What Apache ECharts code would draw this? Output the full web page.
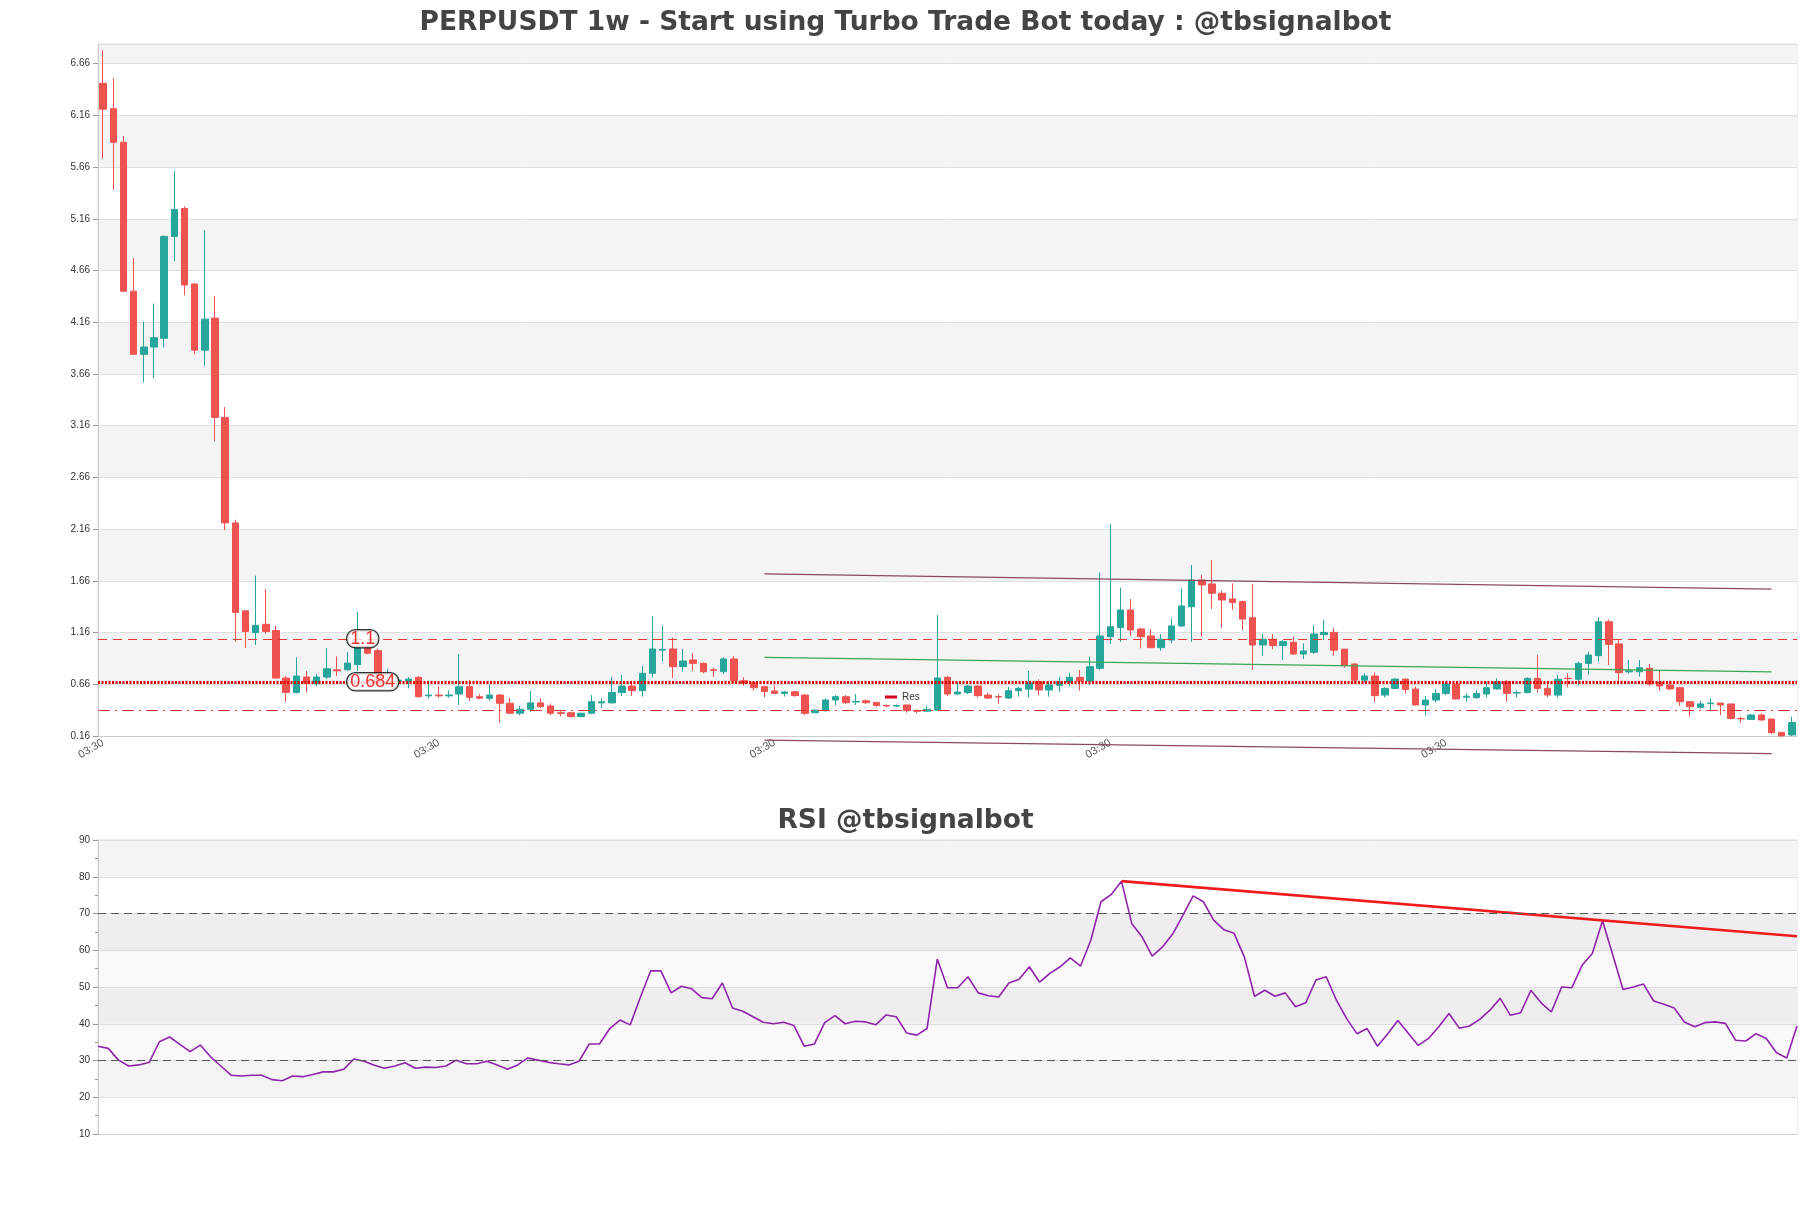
<!DOCTYPE html>
<html><head><meta charset="utf-8">
<script src="https://cdn.jsdelivr.net/npm/echarts@6/dist/echarts.min.js"></script>
<style>html,body{margin:0;padding:0;background:#fff}#c{width:1811px;height:1208px}</style>
</head><body><div id="c"></div>
<script>
const opens=[6.47,6.225,5.90,4.46,3.85,3.92,4.005,4.99,5.26,4.53,3.89,4.20,3.24,2.22,1.37,1.16,1.24,1.18,0.72,0.58,0.73,0.665,0.73,0.80,0.80,0.85,1.02,0.985,0.68,0.69,0.69,
0.727,0.548,0.556,0.548,0.566,0.637,0.54,0.525,0.556,0.476,0.38,0.418,0.48,0.45,0.385,0.385,0.347,0.38,0.48,0.48,0.58,0.643,0.598,0.766,0.99,1.001,0.83,0.895,
0.862,0.80,0.782,0.905,0.695,0.675,0.637,0.595,0.572,0.588,0.556,0.385,0.405,0.508,0.54,0.488,0.50,0.485,0.455,0.45,0.46,0.405,0.40,0.41,0.727,0.566,0.58,0.643,0.556,0.54,0.527,
0.598,0.613,0.685,0.605,0.65,0.68,0.727,0.692,0.814,1.12,1.207,1.378,1.195,1.127,1.014,1.088,1.224,1.41,1.668,1.63,1.54,1.485,1.46,1.304,1.04,1.095,1.034,1.066,0.953,0.969,1.14,
1.162,1.0,0.856,0.70,0.74,0.556,0.62,0.71,0.614,0.46,0.508,0.572,
0.663,0.535,0.53,0.566,0.615,0.685,0.575,0.58,0.717,0.62,0.556,0.718,0.708,0.862,0.937,1.265,1.05,0.78,
0.782,0.815,0.68,0.653,0.627,0.492,0.437,0.475,0.478,0.47,0.33,0.32,0.363,0.324,0.195,0.17];
const closes=[6.22,5.90,4.46,3.85,3.92,4.01,4.99,5.25,4.52,3.89,4.19,3.24,2.22,1.355,1.17,1.23,1.17,0.72,0.58,0.74,0.67,0.73,0.81,0.79,0.865,1.02,0.96,0.675,0.69,0.70,0.71,
0.54,0.556,0.548,0.556,0.637,0.534,0.525,0.556,0.476,0.38,0.418,0.48,0.444,0.38,0.378,0.347,0.38,0.492,0.49,0.582,0.643,0.598,0.766,1.001,0.998,0.83,0.885,0.862,
0.782,0.795,0.905,0.695,0.67,0.627,0.589,0.572,0.585,0.55,0.379,0.41,0.508,0.54,0.482,0.494,0.482,0.456,0.45,0.455,0.405,0.40,0.418,0.721,0.566,0.585,0.643,0.55,0.527,0.537,0.598,
0.62,0.675,0.605,0.653,0.685,0.727,0.692,0.83,1.127,1.217,1.378,1.185,1.12,1.014,1.095,1.224,1.417,1.668,1.62,1.54,1.475,1.45,1.29,1.04,1.095,1.034,1.072,0.953,0.982,1.146,1.162,
0.99,0.84,0.70,0.74,0.55,0.62,0.71,0.61,0.46,0.508,0.572,0.662,
0.518,0.545,0.572,0.627,0.685,0.572,0.58,0.717,0.62,0.556,0.708,0.715,0.862,0.943,1.265,1.046,0.772,0.79,
0.82,0.663,0.643,0.615,0.492,0.443,0.47,0.478,0.46,0.33,0.326,0.363,0.315,0.192,0.16,0.29];
const lows=[5.74,5.44,4.46,3.85,3.58,3.62,3.916,4.75,4.42,3.85,3.74,3.01,2.15,1.07,1.01,1.04,1.15,0.72,0.49,0.57,0.58,0.64,0.71,0.74,0.79,0.79,0.95,0.66,0.66,0.66,0.62,
0.533,0.52,0.53,0.53,0.46,0.50,0.515,0.50,0.29,0.38,0.36,0.39,0.43,0.36,0.35,0.34,0.345,0.37,0.43,0.475,0.547,0.547,0.54,0.727,0.88,0.72,0.782,0.79,
0.766,0.733,0.756,0.675,0.647,0.598,0.534,0.566,0.54,0.54,0.363,0.38,0.395,0.455,0.47,0.46,0.47,0.443,0.44,0.44,0.385,0.38,0.392,0.405,0.547,0.56,0.566,0.534,0.515,0.47,0.52,
0.54,0.534,0.556,0.54,0.588,0.637,0.598,0.653,0.798,1.05,1.072,1.127,1.008,1.014,0.985,1.056,1.217,1.072,1.12,1.388,1.208,1.378,1.185,0.798,0.934,0.998,0.895,0.943,0.904,0.953,1.088,
0.937,0.82,0.663,0.676,0.485,0.534,0.61,0.572,0.453,0.356,0.485,0.556,
0.515,0.492,0.521,0.534,0.605,0.492,0.534,0.572,0.579,0.534,0.534,0.63,0.647,0.75,0.879,0.846,0.676,0.766,
0.734,0.643,0.598,0.605,0.45,0.347,0.424,0.41,0.363,0.32,0.29,0.315,0.308,0.18,0.16,0.16];
const highs=[6.79,6.52,5.96,4.78,4.166,4.34,5.0,5.62,5.28,4.54,5.05,4.41,3.34,2.25,1.37,1.71,1.58,1.23,0.74,0.92,0.79,0.76,1.01,0.93,0.97,1.36,1.04,1.0,0.81,0.72,0.73,
0.74,0.695,0.64,0.60,0.95,0.70,0.566,0.66,0.566,0.525,0.45,0.595,0.525,0.475,0.405,0.395,0.385,0.556,0.525,0.733,0.75,0.695,0.837,1.32,1.224,1.114,1.001,0.96,
0.87,0.82,0.92,0.934,0.727,0.675,0.647,0.647,0.598,0.598,0.566,0.418,0.524,0.556,0.556,0.566,0.515,0.488,0.465,0.465,0.46,0.418,0.45,1.33,0.74,0.676,0.653,0.65,0.579,0.566,0.637,
0.637,0.789,0.71,0.692,0.733,0.772,0.798,0.927,1.74,2.21,1.594,1.485,1.208,1.19,1.146,1.298,1.588,1.813,1.717,1.862,1.565,1.636,1.469,1.63,1.146,1.146,1.088,1.12,1.056,1.233,1.28,
1.201,1.0,0.863,0.766,0.772,0.63,0.717,0.717,0.637,0.547,0.611,0.685,
0.663,0.572,0.605,0.685,0.718,0.701,0.605,0.727,0.943,0.676,0.75,0.766,0.879,0.975,1.307,1.288,1.095,0.895,
0.895,0.856,0.798,0.695,0.637,0.492,0.50,0.524,0.478,0.47,0.346,0.372,0.38,0.33,0.20,0.347];
const rsi=[33.9,33.3,30.1,28.5,28.8,29.5,35.1,36.4,34.4,32.4,34.2,31.0,28.5,26.0,25.8,26.0,26.0,24.8,24.5,25.8,25.6,26.2,26.9,26.9,27.6,30.4,29.8,28.7,27.9,28.5,29.4,27.9,28.2,28.1,28.5,30.1,29.1,29.1,29.8,28.8,27.6,28.8,30.7,30.1,29.5,29.1,28.8,29.8,34.5,34.5,38.7,41.0,39.7,47.3,54.4,54.4,48.4,50.2,49.5,
47.1,46.8,51.1,44.3,43.4,41.9,40.4,40.0,40.4,39.5,33.9,34.5,40.3,42.2,40.0,40.7,40.5,39.7,42.4,41.9,37.5,36.9,38.7,57.6,49.8,49.8,52.8,48.4,47.6,47.3,51.1,52.1,55.5,51.3,53.7,55.5,57.9,55.7,62.7,73.2,75.2,78.8,67.3,63.7,58.4,60.9,64.4,69.5,74.8,73.2,68.2,65.6,64.6,58.2,
47.5,49.1,47.5,48.4,44.6,45.7,51.9,52.8,46.4,41.4,37.3,38.7,33.9,37.2,40.9,37.5,34.1,36.0,39.2,42.8,38.8,39.4,41.2,43.7,46.9,42.3,43.0,49.1,45.7,43.2,50.0,49.8,55.9,59.1,68.0,58.7,49.3,50.0,50.8,46.2,45.3,44.3,40.5,39.2,40.3,40.5,40.1,35.5,35.3,37.3,36.0,32.1,30.7,39.4];
const cats=opens.map(()=> '03:30');
const resLevels=[1.1,0.684,0.41];
const upperTrend=[[65,1.727],[164,1.58]];
const midTrend=[[65,0.92],[164,0.78]];
const lowerTrend=[[65,0.12],[164,-0.01]];
const rsiTrend=[[100,78.8],[166,63.8]];

const candle=opens.map((o,i)=>[o,closes[i],lows[i],highs[i]]);
const chart=echarts.init(document.getElementById('c'));
const L=98,R=14;
chart.setOption({
  animation:false,
  title:[{text:'PERPUSDT 1w - Start using Turbo Trade Bot today : @tbsignalbot',left:'center',top:5,textStyle:{fontSize:26.5,fontWeight:'bold',color:'#444',fontFamily:'DejaVu Sans'}},
         {text:'RSI @tbsignalbot',left:'center',top:803,textStyle:{fontSize:26.5,fontWeight:'bold',color:'#444',fontFamily:'DejaVu Sans'}}],
  legend:{data:['Res'],left:880,top:687,itemWidth:12,itemHeight:3,icon:'rect',textStyle:{fontSize:10,color:'#333'}},
  grid:[{left:L,right:R,top:44,height:692,show:true,borderColor:'#ddd',borderWidth:1},
        {left:L,right:R,top:840,height:294,show:true,borderColor:'#ddd',borderWidth:1}],
  xAxis:[{type:'category',data:cats,gridIndex:0,boundaryGap:true,axisLine:{lineStyle:{color:'#ccc'}},axisTick:{show:false},
          axisLabel:{interval:32,rotate:30,fontSize:11,color:'#555',showMaxLabel:false,margin:6}},
         {type:'category',data:cats,gridIndex:1,boundaryGap:false,axisLine:{lineStyle:{color:'#ccc'}},axisTick:{show:false},axisLabel:{show:false}}],
  yAxis:[{type:'value',gridIndex:0,min:0.16,max:6.85,interval:0.5,axisLine:{show:true,lineStyle:{color:'#ccc'}},axisTick:{show:true,lineStyle:{color:'#999'}},
          axisLabel:{fontSize:10,color:'#333',showMaxLabel:false,formatter:v=>v.toFixed(2)},
          splitLine:{lineStyle:{color:'#e0e0e0'}},splitArea:{show:true,areaStyle:{color:['#ffffff','#f4f4f4']}}},
         {type:'value',gridIndex:1,min:10,max:90,interval:10,axisLine:{show:true,lineStyle:{color:'#ccc'}},axisTick:{show:true,lineStyle:{color:'#999'}},
          minorTick:{show:true,splitNumber:2,lineStyle:{color:'#999'}},
          axisLabel:{fontSize:10,color:'#333'},splitLine:{lineStyle:{color:'#e0e0e0'}},splitArea:{show:true,areaStyle:{color:['#ffffff','#f4f4f4']}}}],
  series:[
    {type:'candlestick',name:'price',data:candle,xAxisIndex:0,yAxisIndex:0,barWidth:7,
     itemStyle:{color:'#26a69a',color0:'#ef5350',borderColor:'#26a69a',borderColor0:'#ef5350'},
     markLine:{symbol:'none',silent:true,label:{show:false},data:[
       {yAxis:resLevels[0],lineStyle:{color:'#e53935',type:[9,6],width:1.2}},
       {yAxis:resLevels[1],lineStyle:{color:'#e00000',type:[2,1.5],width:3}},
       {yAxis:resLevels[2],lineStyle:{color:'#e53935',type:[12,5,2,5],width:1.2}}]}},
    {type:'line',name:'Res',data:[],itemStyle:{color:'#d0021b'},lineStyle:{color:'#d0021b'},xAxisIndex:0,yAxisIndex:0},
    {type:'scatter',data:[[24,resLevels[0]],[24,resLevels[1]]],symbolSize:0,xAxisIndex:0,yAxisIndex:0,z:10,
     label:{show:true,position:'right',distance:0,formatter:p=>String(p.value[1]),fontSize:18,color:'#e00',
            backgroundColor:'#fff',borderColor:'#000',borderWidth:1.2,borderRadius:8,padding:[0,3,-1,3]}},
    {type:'line',data:upperTrend,symbol:'none',clip:false,lineStyle:{color:'#8a4a5c',width:1.2},xAxisIndex:0,yAxisIndex:0},
    {type:'line',data:midTrend,symbol:'none',clip:false,lineStyle:{color:'#3aa655',width:1.2},xAxisIndex:0,yAxisIndex:0},
    {type:'line',data:lowerTrend,symbol:'none',clip:false,lineStyle:{color:'#8a4a5c',width:1.2},xAxisIndex:0,yAxisIndex:0},
    {type:'line',data:rsi,symbol:'none',xAxisIndex:1,yAxisIndex:1,lineStyle:{color:'#8e24aa',width:1.6},
     markArea:{silent:true,itemStyle:{color:'rgba(200,170,220,0.08)'},data:[[{yAxis:30},{yAxis:70}]]},
     markLine:{symbol:'none',silent:true,label:{show:false},lineStyle:{color:'#555',type:[8,5],width:1.2},data:[{yAxis:70},{yAxis:30}]}},
    {type:'line',data:rsiTrend,symbol:'none',xAxisIndex:1,yAxisIndex:1,lineStyle:{color:'#f01c1c',width:2.6}}
  ]
});
</script></body></html>
